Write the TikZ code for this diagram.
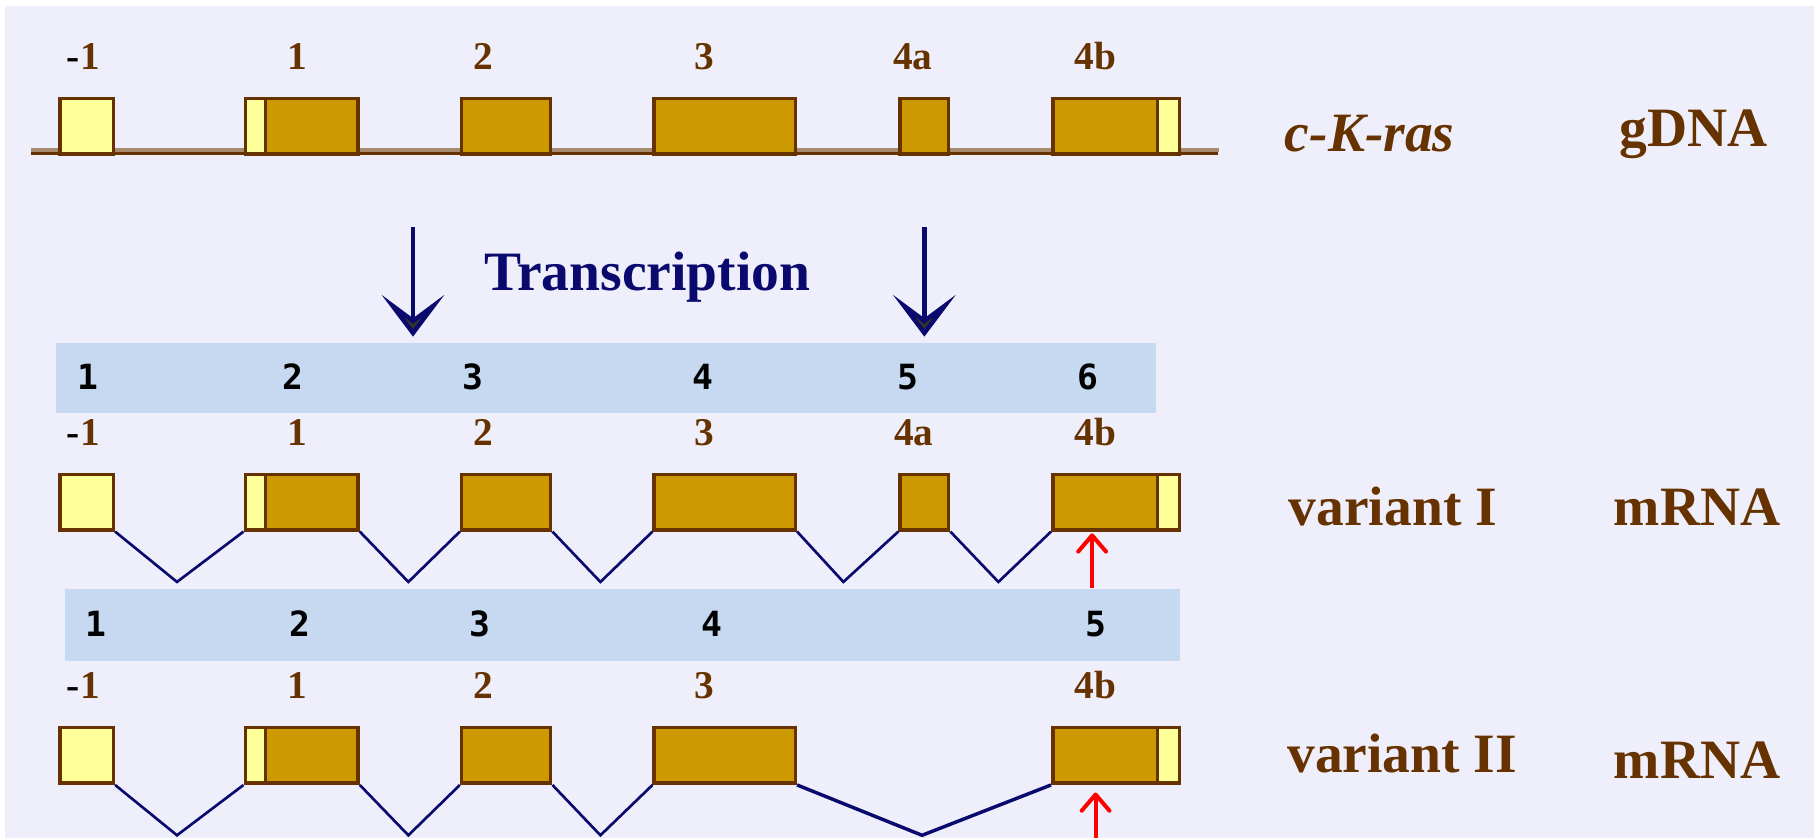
\documentclass[tikz,border=0pt]{standalone}
\usepackage{fontspec}
\setmainfont{Liberation Serif}
\newfontfamily\bandfont{DejaVu Sans Mono}
\usepackage{tikz}
\usetikzlibrary{arrows.meta,positioning,calc}
\definecolor{pagebg}{HTML}{EFEFFC}
\definecolor{bandblue}{HTML}{C6D9F0}
\definecolor{exgold}{HTML}{CC9900}
\definecolor{utryel}{HTML}{FFFF99}
\definecolor{brownink}{HTML}{663300}
\definecolor{linetan}{HTML}{A88A6E}
\definecolor{navyink}{HTML}{0A0A6E}
\definecolor{headgray}{HTML}{33332E}
\definecolor{redink}{HTML}{FF0000}
\tikzset{
  exon/.style={draw=brownink,fill=exgold,line width=3pt,inner sep=0pt,
               anchor=north west,minimum height=48pt},
  band/.style={fill=bandblue,inner sep=0pt,anchor=north west},
  exlabel/.style={anchor=base,text=brownink,inner sep=0pt,
                  font=\fontsize{34}{36}\selectfont\bfseries},
  numlabel/.style={anchor=base,text=black,inner sep=0pt,
                   font=\fontsize{30}{32}\selectfont\bandfont\bfseries},
  biglabel/.style={anchor=base,text=brownink,inner sep=0pt,
                   font=\fontsize{48}{52}\selectfont\bfseries},
  splice/.style={draw=navyink,line width=2.3pt},
  txarr/.style={draw=navyink,line width=3.8pt,
                -{Stealth[length=36pt,width=54pt,inset=20pt,fill=headgray]}},
  redarr/.style={draw=redink,line width=3.5pt,
                 -{Straight Barb[length=14pt,width=24pt,round]}}
}

\begin{document}
\begin{tikzpicture}[x=1pt,y=-1pt]
  \useasboundingbox (0,0) rectangle (1568,724);
  \fill[white] (0,0) rectangle (1568,724);
  \fill[pagebg] (4.6,5) rectangle (1568,724);

  % genomic line
  \coordinate (glt) at (27,129.5);  \coordinate (grt) at (1054,129.5);
  \coordinate (gld) at (27,132.5);  \coordinate (grd) at (1053,132.5);
  \draw[linetan,line width=3.5pt] (glt) -- (grt);
  \draw[brownink,line width=2.5pt] (gld) -- (grd);

  % exon boxes, three rows
  \foreach \r/\top in {a/83.5,b/408.5,c/627.5} {
    \foreach \n/\x/\w/\f in {m1/50.5/46/utryel,u1/210.5/17.5/utryel,e1/228/80/exgold,
                             e2/397.5/77/exgold,e3/564/122/exgold,
                             e4b/908.5/90.5/exgold,u4b/999/19/utryel}
      \node[exon,fill=\f,minimum width=\w pt] (\r-\n) at (\x,\top) {};
  }
  \foreach \r/\top in {a/83.5,b/408.5}
    \node[exon,minimum width=42pt] (\r-e4a) at (776.5,\top) {};

  % splicing, variant I
  \foreach \l/\rr/\vx [count=\k] in {m1/u1/153,e1/e2/353,e2/e3/519,e3/e4a/729,e4a/e4b/863} {
    \coordinate (b-v\k) at (\vx,503);
    \draw[splice] (b-\l.south east) -- (b-v\k) -- (b-\rr.south west);
  }
  % splicing, variant II
  \foreach \l/\rr/\vx [count=\k] in {m1/u1/153,e1/e2/353,e2/e3/519} {
    \coordinate (c-v\k) at (\vx,722);
    \draw[splice] (c-\l.south east) -- (c-v\k) -- (c-\rr.south west);
  }
  \coordinate (c-v4) at (797,722);
  \draw[splice,line width=3pt] (c-e3.south east) -- (c-v4) -- (c-e4b.south west);

  % exon names
  \foreach \r/\base in {a/60.5,b/385,c/604} {
    \foreach \x/\lab in {72/{{\color{black}-}1},257/1,418/2,609/3,947/4b}
      \node[exlabel] (\r-lab\x) at (\x,\base) {\lab};
  }
  \node[exlabel] (a-lab4a) at (789,60.5) {4a};
  \node[exlabel] (b-lab4a) at (790,385) {4a};

  % numbered bands
  \node[band,minimum width=951pt,minimum height=61pt] (band1) at (48,296) {};
  \node[band,minimum width=964pt,minimum height=62pt] (band2) at (56,509) {};
  \foreach \x/\num in {76/1,253/2,409/3,608/4,785/5,940/6}
    \node[numlabel] (n1-\num) at (\x,337) {\num};
  \foreach \x/\num in {83/1,259/2,415/3,615/4,947/5}
    \node[numlabel] (n2-\num) at (\x,550.5) {\num};

  % transcription
  \coordinate (ta1s) at (357,196);  \coordinate (ta1t) at (357,291);
  \coordinate (ta2s) at (799,196);  \coordinate (ta2t) at (799,291);
  \draw[txarr] (ta1s) -- (ta1t);
  \draw[txarr] (ta2s) -- (ta2t);
  \node[biglabel,text=navyink] (transcr) at (559.5,251) {Transcription};

  % red marks
  \coordinate (ra1s) at (944,508);  \coordinate (ra1t) at (944,461);
  \coordinate (ra2s) at (947,726);  \coordinate (ra2t) at (947,685);
  \draw[redarr] (ra1s) -- (ra1t);
  \draw[redarr] (ra2s) -- (ra2t);

  % right-hand labels
  \node[biglabel,font=\fontsize{48}{52}\selectfont\bfseries\itshape] (gene) at (1184,131) {c-K-ras};
  \node[biglabel] (gdna) at (1464,127) {gDNA};
  \node[biglabel] (var1) at (1204,454) {variant I};
  \node[biglabel] (mrna1) at (1467,454) {mRNA};
  \node[biglabel] (var2) at (1212,668) {variant II};
  \node[biglabel] (mrna2) at (1467,672.6) {mRNA};
\end{tikzpicture}
\end{document}
